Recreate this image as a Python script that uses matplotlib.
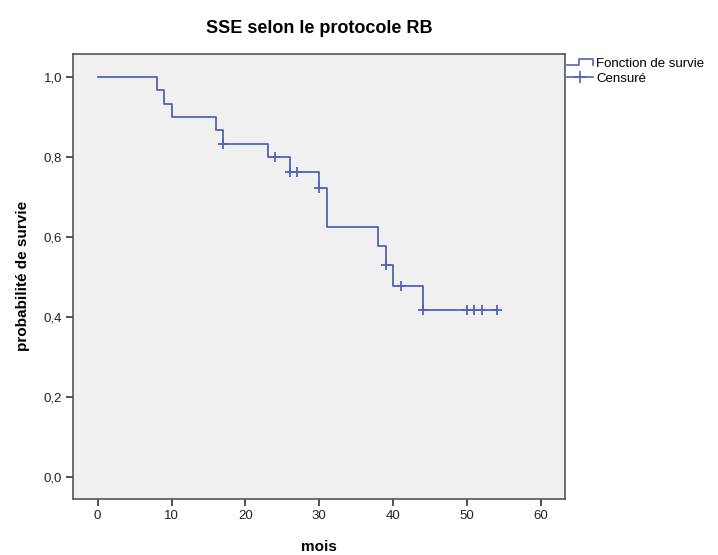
import matplotlib
matplotlib.use('Agg')
from matplotlib import pyplot as plt
from matplotlib.legend_handler import HandlerBase
from matplotlib.lines import Line2D
from matplotlib.ticker import FuncFormatter
import numpy as np

# Kaplan-Meier steps
step_times = [0, 8, 9, 10, 16, 17, 23, 26, 30, 31, 38, 39, 40, 44]
step_surv = [1.0, 0.967, 0.933, 0.900, 0.867, 0.833, 0.799, 0.762, 0.722, 0.626, 0.578, 0.530, 0.477, 0.417]
last_time = 54
censor_times = [17, 24, 26, 27, 30, 39, 41, 44, 50, 51, 52, 54]

title = 'SSE selon le protocole RB'
x_label = 'mois'
y_label = 'probabilité de survie'
legend_labels = ['Fonction de survie', 'Censuré']

LINE_COLOR = '#5165b8'
plt.rcParams['font.family'] = ['Liberation Sans', 'DejaVu Sans']


class HandlerStep(HandlerBase):
    """Draw a small step glyph in the legend, like SPSS does."""
    def create_artists(self, legend, orig_handle, xdescent, ydescent, width, height, fontsize, trans):
        x0, x1 = -xdescent, -xdescent + width
        xm = x0 + 0.45 * width
        y_lo, y_hi = -ydescent + 0.25 * height, -ydescent + 0.85 * height
        line = Line2D([x0, xm, xm, x1, x1], [y_lo, y_lo, y_hi, y_hi, y_lo],
                      color=orig_handle.get_color(), lw=orig_handle.get_linewidth())
        line.set_transform(trans)
        return [line]


fig = plt.figure(figsize=(7.18, 5.55), dpi=100)
ax = fig.add_axes((73.3 / 718, 1 - 498.7 / 555, 492 / 718, 444.7 / 555))
ax.set_facecolor('#f0f0f0')

xs = list(step_times) + [last_time]
ys = list(step_surv) + [step_surv[-1]]
ax.step(xs, ys, where='post', color=LINE_COLOR, lw=1.3)

# censored marks sit on the curve
idx = np.searchsorted(step_times, censor_times, side='right') - 1
censor_surv = [step_surv[i] for i in idx]
ax.plot(censor_times, censor_surv, linestyle='none', marker='+', markersize=7.5,
        markeredgewidth=1.3, color=LINE_COLOR)

ax.set_xlim(-3.3, 63.3)
ax.set_ylim(-0.054, 1.0575)
ax.set_xticks(range(0, 61, 10))
ax.set_yticks(np.arange(0, 1.01, 0.2))
ax.yaxis.set_major_formatter(FuncFormatter(lambda v, p: f'{v:.1f}'.replace('.', ',')))

for side in ['left', 'right', 'top', 'bottom']:
    ax.spines[side].set_color('#555555')
    ax.spines[side].set_linewidth(1.2)
ax.tick_params(axis='both', direction='out', length=5, width=1.2, color='#333333',
               labelsize=9.5, labelcolor='#222222', pad=3)

ax.set_title(title, fontsize=13, fontweight='bold', pad=15)
ax.set_xlabel(x_label, fontsize=11, fontweight='bold', labelpad=13)
ax.set_ylabel(y_label, fontsize=11, fontweight='bold', labelpad=10)

step_handle = Line2D([], [], color=LINE_COLOR, lw=1.2)
censor_handle = Line2D([], [], color=LINE_COLOR, lw=1.2, marker='+', markersize=8, markeredgewidth=1.2)
fig.legend([step_handle, censor_handle], legend_labels,
           handler_map={step_handle: HandlerStep()},
           loc='upper left', bbox_to_anchor=(567 / 718, 1 - 58 / 555),
           bbox_transform=fig.transFigure, frameon=False, fontsize=9.5,
           handlelength=2.0, handletextpad=0.2, labelspacing=0.2, borderpad=0,
           borderaxespad=0, numpoints=1)

fig.savefig('out.png', dpi=100)
